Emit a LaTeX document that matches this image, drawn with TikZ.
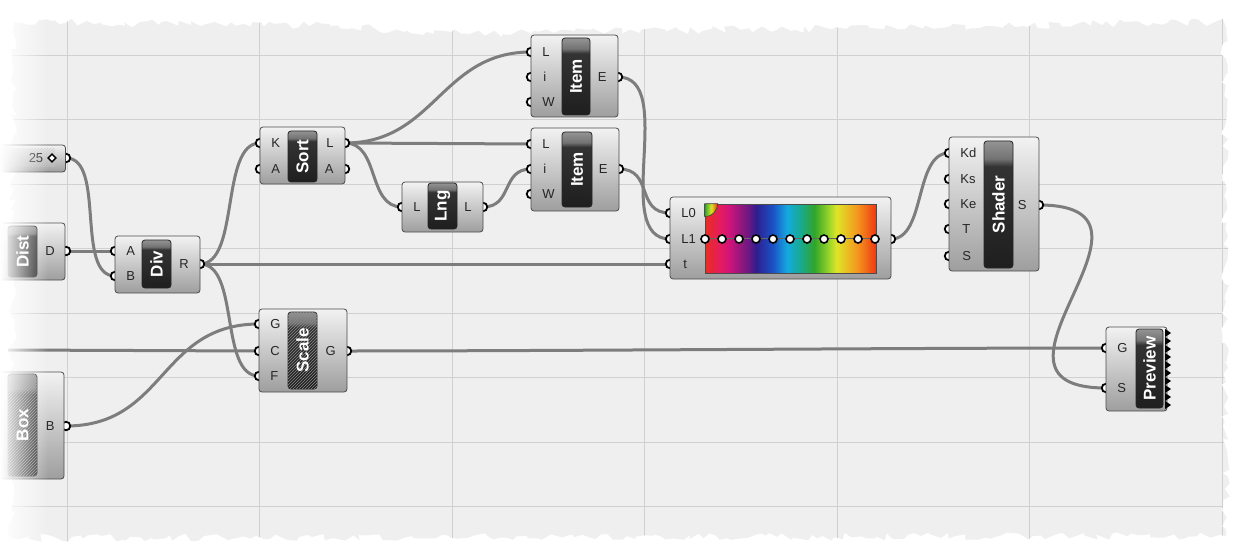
\documentclass[tikz,border=0pt]{standalone}
\usepackage{fontspec}
\setmainfont{Liberation Sans}
\usetikzlibrary{positioning,decorations.pathmorphing,patterns,fadings}
\definecolor{canvasc}{RGB}{239,239,239}
\definecolor{gridc}{RGB}{208,208,208}
\definecolor{wirec}{RGB}{125,125,125}
\definecolor{rbA}{RGB}{235,45,35}
\definecolor{rbB}{RGB}{228,30,90}
\definecolor{rbC}{RGB}{215,20,120}
\definecolor{rbD}{RGB}{110,25,130}
\definecolor{rbE}{RGB}{45,30,145}
\definecolor{rbF}{RGB}{25,85,200}
\definecolor{rbG}{RGB}{20,170,220}
\definecolor{rbH}{RGB}{25,170,140}
\definecolor{rbI}{RGB}{50,165,40}
\definecolor{rbJ}{RGB}{150,210,40}
\definecolor{rbK}{RGB}{225,228,40}
\definecolor{rbL}{RGB}{245,150,30}
\definecolor{rbM}{RGB}{240,55,20}
\pgfdeclarelayer{canvas}
\pgfdeclarelayer{wires}
\pgfsetlayers{canvas,wires,main}
\pgfdeclareverticalshading{ghbar}{100bp}{color(0bp)=(black!88); color(25bp)=(black!88);
  color(65bp)=(black!80); color(68bp)=(black!55); color(75bp)=(black!42); color(100bp)=(black!42)}
\pgfdeclarehorizontalshading{rainbow}{100bp}{color(0bp)=(rbA); color(25bp)=(rbA);
  color(29bp)=(rbB); color(31.5bp)=(rbC); color(37.5bp)=(rbD); color(40bp)=(rbE);
  color(45bp)=(rbF); color(49bp)=(rbG); color(53bp)=(rbH); color(57bp)=(rbI);
  color(61bp)=(rbJ); color(63.5bp)=(rbK); color(69.5bp)=(rbL); color(75bp)=(rbM); color(100bp)=(rbM)}
\tikzfading[name=fadeleft, left color=transparent!0, right color=transparent!100]
\tikzset{
  comp/.style={draw=black!70, line width=0.8pt, rounded corners=3pt,
               top color=black!5, bottom color=black!38, inner sep=0pt},
  tab/.style={draw=black!85, line width=0.8pt, rounded corners=3pt, shading=ghbar,
              rotate=90, inner sep=0pt, text=white,
              font=\bfseries\fontsize{17}{17}\selectfont},
  hatchtab/.style={tab, postaction={pattern=north east lines, pattern color=black!45}},
  port/.style={circle, draw=black, fill=white, line width=1.8pt, inner sep=0pt, minimum size=8.5pt},
  grip/.style={port, line width=1.6pt, minimum size=8pt},
  plabel/.style={inner sep=0pt, font=\fontsize{13}{13}\selectfont, text=black!85},
  wire/.style={draw=wirec, line width=3pt},
  gridline/.style={draw=gridc, line width=0.8pt},
}

\begin{document}
\begin{tikzpicture}[x=1pt, y=-1pt]
\useasboundingbox (0,0) rectangle (1233,556);

% ---------------------------------------------------------------- canvas
\begin{pgfonlayer}{canvas}
\fill[white] (0,0) rectangle (1233,556);
\begin{scope}
  \clip[decorate, decoration={random steps, segment length=6pt, amplitude=4pt}]
    (14,22) -- (330,26) -- (470,34) -- (1224,22) -- (1226,536) -- (12,538) -- cycle;
  \fill[canvasc] (0,0) rectangle (1233,556);
  \foreach \gx in {67,259.5,...,1223} \draw[gridline] (\gx,0) -- (\gx,556);
  \foreach \gy in {55,119.5,...,508} \draw[gridline] (0,\gy) -- (1233,\gy);
\end{scope}
\end{pgfonlayer}

% ---------------------------------------------------------------- ports
\node[port] (sliderout) at (66,158) {};
\node[port] (distD) at (66,251) {};
\node[port] (divA) at (115,251) {};
\node[port] (divB) at (115,276) {};
\node[port] (divR) at (200,264) {};
\node[port] (sortK) at (260,143) {};
\node[port] (sortA) at (260,169) {};
\node[port] (sortL) at (345,143) {};
\node[port] (sortAo) at (345,169) {};
\node[port] (lngin) at (402,207) {};
\node[port] (lngout) at (483,207) {};
\node[port] (itemaL) at (531,52) {};
\node[port] (itemai) at (531,77) {};
\node[port] (itemaW) at (531,102) {};
\node[port] (itemaE) at (618,77) {};
\node[port] (itembL) at (531,144) {};
\node[port] (itembi) at (531,169) {};
\node[port] (itembW) at (531,194) {};
\node[port] (itembE) at (619,169) {};
\node[port] (gradL0) at (670,213) {};
\node[port] (gradL1) at (670,239) {};
\node[port] (gradt) at (670,264) {};
\node[port] (gradout) at (891,239) {};
\node[port] (shadKd) at (949,153) {};
\node[port] (shadKs) at (949,179) {};
\node[port] (shadKe) at (949,204) {};
\node[port] (shadT) at (949,229) {};
\node[port] (shadS) at (949,256) {};
\node[port] (shadSo) at (1039,205) {};
\node[port] (prevG) at (1106,348) {};
\node[port] (prevS) at (1106,388) {};
\node[port] (scaleG) at (259,324) {};
\node[port] (scaleC) at (259,351) {};
\node[port] (scaleF) at (259,376) {};
\node[port] (scaleout) at (347,351) {};
\node[port] (boxB) at (66,426) {};
\coordinate (offleft) at (8,350);

% ---------------------------------------------------------------- left inputs
\node[comp, minimum width=95pt, minimum height=27pt] (slider) at (18,158.5) {};
\node[minimum width=58pt, minimum height=18pt, pattern=north east lines,
      pattern color=black!22] (sliderrail) at (26,158) {};
\node[plabel] (sliderval) at (36,158) {25};
\node[draw=black, fill=white, line width=1.4pt, rotate=45, inner sep=0pt,
      minimum size=5.5pt] (sliderknob) at (52,158) {};

\node[comp, minimum width=85pt, minimum height=57pt] (dist) at (22.5,251.5) {};
\node[tab, minimum width=51pt, minimum height=29pt] (disttab) at (22.5,251.5) {Dist};
\node[plabel, left=6pt of distD] (distDl) {D};

\node[comp, minimum width=84pt, minimum height=107pt] (box) at (22,425.5) {};
\node[hatchtab, minimum width=102pt, minimum height=29pt] (boxtab) at (22.5,425) {Box};
\node[plabel, left=6pt of boxB] (boxBl) {B};

% ---------------------------------------------------------------- div / sort / lng
\node[comp, minimum width=85pt, minimum height=57pt] (div) at (157.5,264.5) {};
\node[tab, minimum width=48pt, minimum height=29pt] (divtab) at (156.5,264) {Div};
\node[plabel, right=6pt of divA] (divAl) {A};
\node[plabel, right=6pt of divB] (divBl) {B};
\node[plabel, left=6pt of divR] (divRl) {R};

\node[comp, minimum width=85pt, minimum height=57pt] (sort) at (302.5,155.5) {};
\node[tab, minimum width=51pt, minimum height=29pt] (sorttab) at (302.5,156.5) {Sort};
\node[plabel, right=6pt of sortK] (sortKl) {K};
\node[plabel, right=6pt of sortA] (sortAl) {A};
\node[plabel, left=6pt of sortL] (sortLl) {L};
\node[plabel, left=6pt of sortAo] (sortAol) {A};

\node[comp, minimum width=81pt, minimum height=50pt] (lng) at (442.5,207) {};
\node[tab, minimum width=46pt, minimum height=29pt] (lngtab) at (442.5,206) {Lng};
\node[plabel, right=6pt of lngin] (lnginl) {L};
\node[plabel, left=6pt of lngout] (lngoutl) {L};

% ---------------------------------------------------------------- list items
\node[comp, minimum width=87pt, minimum height=82pt] (itema) at (574.5,76) {};
\node[tab, minimum width=77pt, minimum height=28pt] (itematab) at (576,76.5) {Item};
\node[plabel, right=6pt of itemaL] (itemaLl) {L};
\node[plabel, right=7pt of itemai] (itemail) {i};
\node[plabel, right=6pt of itemaW] (itemaWl) {W};
\node[plabel, left=6pt of itemaE] (itemaEl) {E};

\node[comp, minimum width=88pt, minimum height=83pt] (itemb) at (575,169.5) {};
\node[tab, minimum width=75pt, minimum height=30pt] (itembtab) at (577,169.5) {Item};
\node[plabel, right=6pt of itembL] (itembLl) {L};
\node[plabel, right=7pt of itembi] (itembil) {i};
\node[plabel, right=6pt of itembW] (itembWl) {W};
\node[plabel, left=6pt of itembE] (itembEl) {E};

% ---------------------------------------------------------------- gradient
\node[comp, minimum width=221pt, minimum height=82pt] (grad) at (780.5,238) {};
\node[draw=black!70, line width=0.6pt, shading=rainbow, minimum width=171pt,
      minimum height=69pt, inner sep=0pt] (gradbar) at (790.5,238.5) {};
\draw[black!75, line width=0.6pt, left color=rbI, right color=rbA, middle color=rbK]
  (gradbar.north west) -- ++(13,0) arc[start angle=0, end angle=90, radius=13] -- cycle;
\draw[black!60, line width=1pt] (gradbar.west) -- (gradbar.east);
\foreach \k in {0,...,10} \node[grip] (grip\k) at (705+17*\k,239) {};
\node[plabel, right=6pt of gradL0] (gradL0l) {L0};
\node[plabel, right=6pt of gradL1] (gradL1l) {L1};
\node[plabel, right=8pt of gradt] (gradtl) {t};

% ---------------------------------------------------------------- shader / preview
\node[comp, minimum width=90pt, minimum height=134pt] (shader) at (994,204) {};
\node[tab, minimum width=127pt, minimum height=29pt] (shadertab) at (998.5,204.5) {Shader};
\node[plabel, right=6pt of shadKd] (shadKdl) {Kd};
\node[plabel, right=6pt of shadKs] (shadKsl) {Ks};
\node[plabel, right=6pt of shadKe] (shadKel) {Ke};
\node[plabel, right=8pt of shadT] (shadTl) {T};
\node[plabel, right=8pt of shadS] (shadSl) {S};
\node[plabel, left=7pt of shadSo] (shadSol) {S};

\node[comp, minimum width=61pt, minimum height=84pt] (preview) at (1136.5,369) {};
\node[tab, minimum width=79pt, minimum height=27pt] (previewtab) at (1149.5,368.5) {Preview};
\foreach \k in {0,...,9}
  \fill[black] (1165,329+8*\k) -- (1171,333+8*\k) -- (1165,337+8*\k) -- cycle;
\node[plabel, right=6pt of prevG] (prevGl) {G};
\node[plabel, right=6pt of prevS] (prevSl) {S};

% ---------------------------------------------------------------- scale
\node[comp, minimum width=88pt, minimum height=83pt] (scale) at (303,350.5) {};
\node[hatchtab, minimum width=77pt, minimum height=29pt] (scaletab) at (302.5,350.5) {Scale};
\node[plabel, right=6pt of scaleG] (scaleGl) {G};
\node[plabel, right=6pt of scaleC] (scaleCl) {C};
\node[plabel, right=6pt of scaleF] (scaleFl) {F};
\node[plabel, left=6pt of scaleout] (scaleoutl) {G};

% ---------------------------------------------------------------- wires
\begin{pgfonlayer}{wires}
\draw[wire] (sliderout.center) .. controls +(40,0) and +(-40,0) .. (divB.center);
\draw[wire] (distD.center) -- (divA.center);
\draw[wire] (divR.center) .. controls +(40,0) and +(-40,0) .. (sortK.center);
\draw[wire] (divR.center) -- (gradt.center);
\draw[wire] (divR.center) .. controls +(40,0) and +(-40,0) .. (scaleF.center);
\draw[wire] (sortL.center) .. controls +(90,0) and +(-90,0) .. (itemaL.center);
\draw[wire] (sortL.center) -- (itembL.center);
\draw[wire] (sortL.center) .. controls +(35,0) and +(-35,0) .. (lngin.center);
\draw[wire] (lngout.center) .. controls +(30,0) and +(-30,0) .. (itembi.center);
\draw[wire] (itemaE.center) .. controls +(60,0) and +(-60,0) .. (gradL1.center);
\draw[wire] (itembE.center) .. controls +(35,0) and +(-35,0) .. (gradL0.center);
\draw[wire] (gradout.center) .. controls +(35,0) and +(-35,0) .. (shadKd.center);
\draw[wire] (shadSo.center) .. controls +(150,0) and +(-150,0) .. (prevS.center);
\draw[wire] (scaleout.center) .. controls +(200,0) and +(-200,0) .. (prevG.center);
\draw[wire] (boxB.center) .. controls +(100,0) and +(-100,0) .. (scaleG.center);
\draw[wire] (offleft) -- (scaleC.center);
\end{pgfonlayer}

% torn left edge
\fill[white, path fading=fadeleft] (0,0) rectangle (48,556);

\end{tikzpicture}
\end{document}
